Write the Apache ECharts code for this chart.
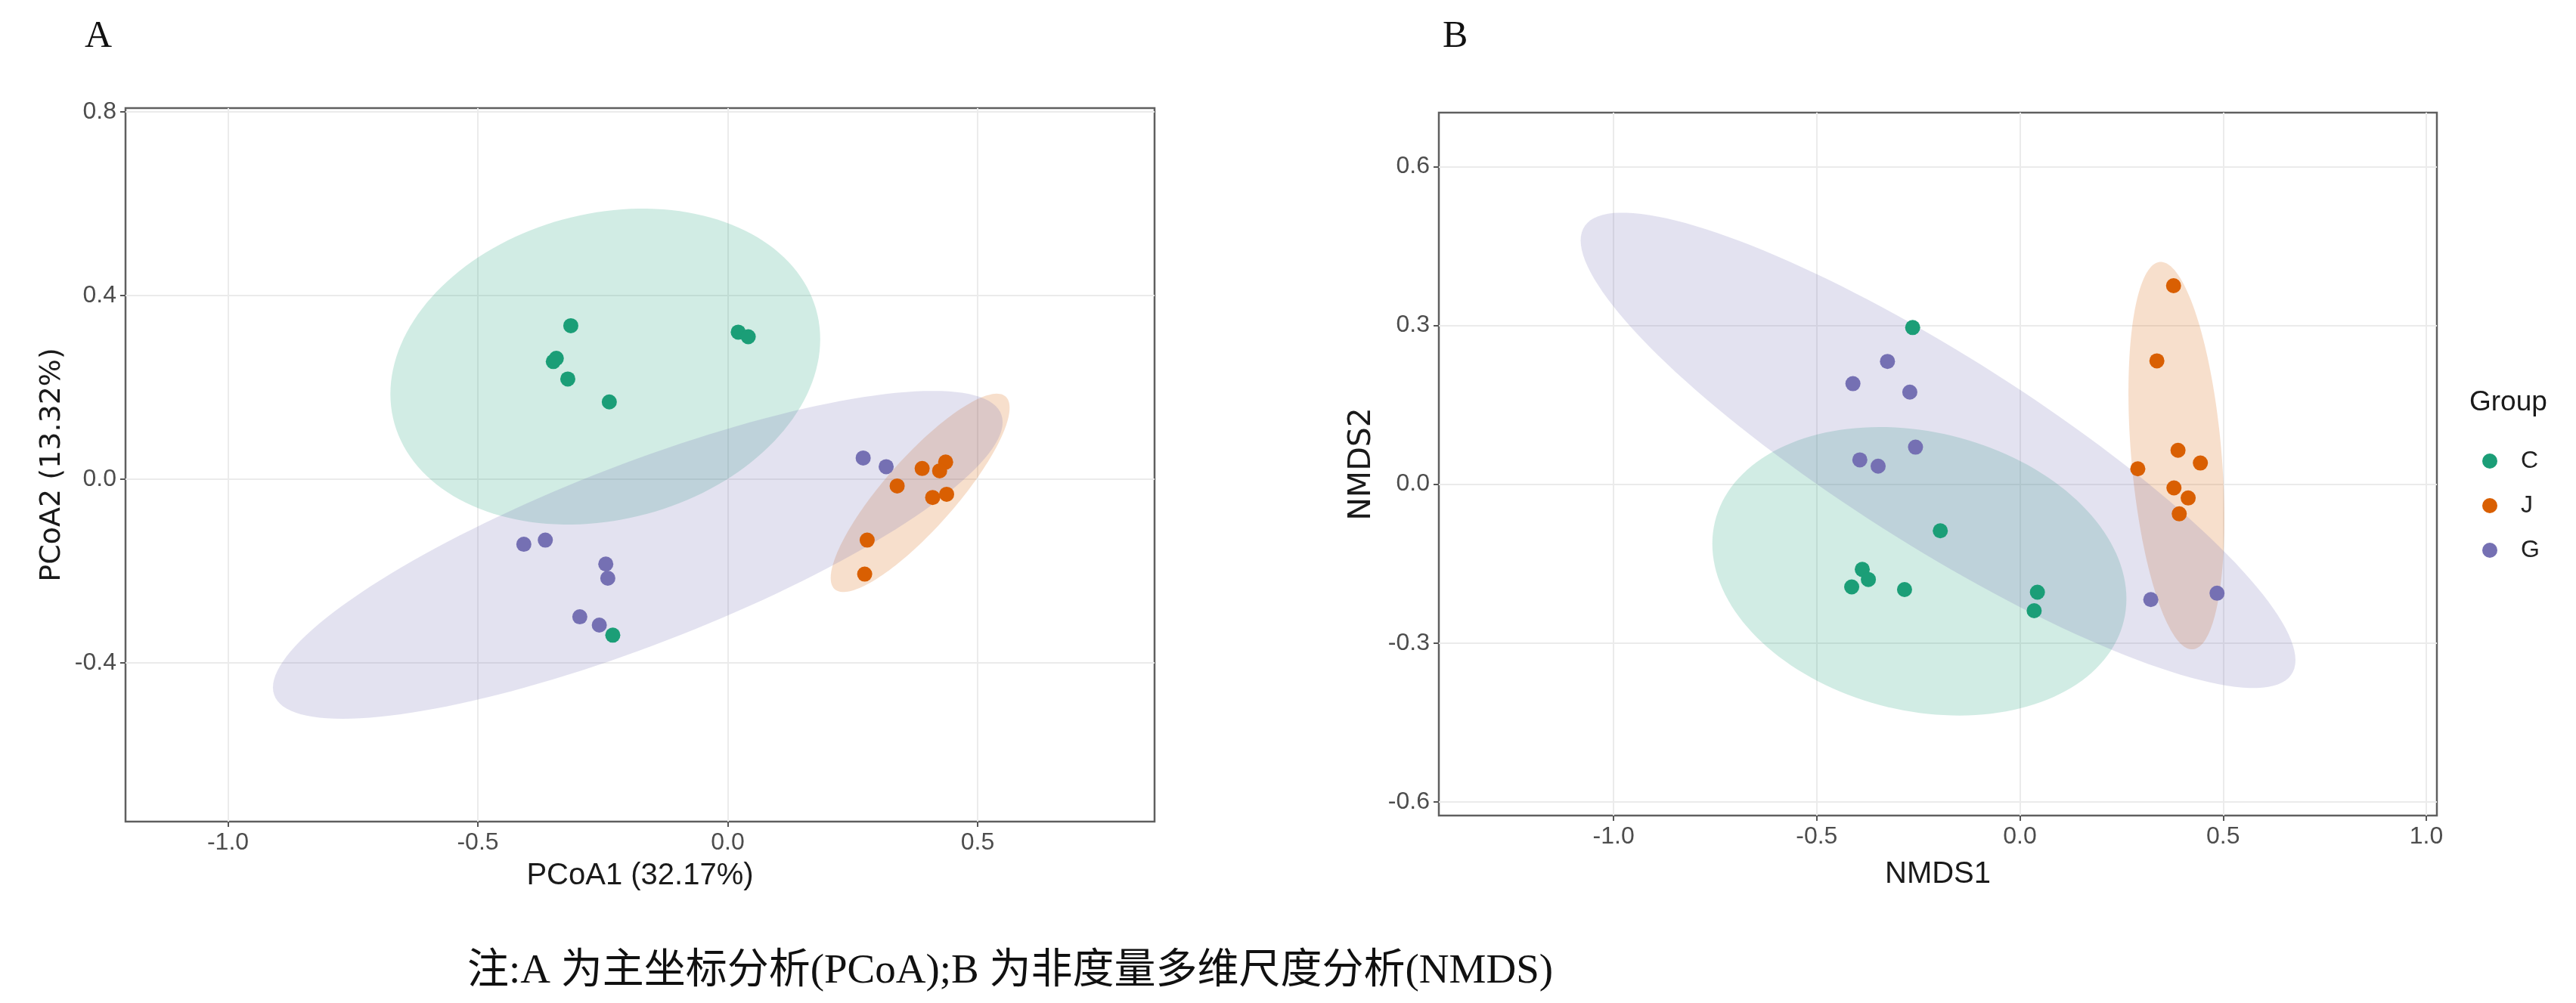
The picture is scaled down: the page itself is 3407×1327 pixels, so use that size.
<!DOCTYPE html>
<html>
<head>
<meta charset="utf-8">
<title>PCoA / NMDS</title>
<script src="https://cdn.jsdelivr.net/npm/echarts@6/dist/echarts.min.js"></script>
<style>
    html, body { margin: 0; padding: 0; background: #fff; }
    #chart { width: 3407px; height: 1327px; }
</style>
</head>
<body>
<div id="chart"></div>
<script>
var groups = ['C', 'J', 'G'];
var groupColors = ['#1B9E77', '#D95F02', '#7570B3'];

// A: PCoA 样本坐标
var pcoaC = [[-0.314, 0.334], [-0.349, 0.256], [-0.343, 0.263], [-0.320, 0.218], [-0.237, 0.168], [0.021, 0.320], [0.041, 0.310], [-0.230, -0.340]];
var pcoaJ = [[0.389, 0.023], [0.436, 0.037], [0.424, 0.018], [0.339, -0.015], [0.410, -0.040], [0.438, -0.033], [0.279, -0.133], [0.274, -0.207]];
var pcoaG = [[0.271, 0.046], [0.317, 0.027], [-0.408, -0.142], [-0.365, -0.133], [-0.244, -0.185], [-0.240, -0.216], [-0.296, -0.300], [-0.257, -0.318]];

// B: NMDS 样本坐标
var nmdsC = [[-0.264, 0.296], [-0.196, -0.088], [-0.388, -0.161], [-0.373, -0.180], [-0.414, -0.194], [-0.284, -0.199], [0.043, -0.204], [0.035, -0.239]];
var nmdsJ = [[0.378, 0.375], [0.337, 0.233], [0.389, 0.064], [0.444, 0.040], [0.290, 0.029], [0.379, -0.007], [0.414, -0.026], [0.392, -0.056]];
var nmdsG = [[-0.326, 0.232], [-0.411, 0.190], [-0.271, 0.174], [-0.257, 0.070], [-0.394, 0.046], [-0.349, 0.034], [0.322, -0.218], [0.485, -0.206]];

// 置信椭圆: [中心x, 中心y, x半宽, y半高, 相位(度)]
var pcoaEllipseC = [-0.245, 0.245, 0.430, 0.344, 80];
var pcoaEllipseJ = [0.385, -0.030, 0.179, 0.216, 31];
var pcoaEllipseG = [-0.180, -0.165, 0.730, 0.357, 36];
var nmdsEllipseC = [-0.2475, -0.1645, 0.5095, 0.2725, 101];
var nmdsEllipseJ = [0.385, 0.054, 0.118, 0.366, 109];
var nmdsEllipseG = [-0.2015, 0.064, 0.8795, 0.449, 152];

// 坐标轴范围和刻度
var pcoaXRange = [-1.205, 0.854];
var pcoaYRange = [-0.746, 0.808];
var nmdsXRange = [-1.430, 1.026];
var nmdsYRange = [-0.626, 0.702];
var pcoaXTicks = [-1.0, -0.5, 0.0, 0.5];
var pcoaYTicks = [-0.4, 0.0, 0.4, 0.8];
var nmdsXTicks = [-1.0, -0.5, 0.0, 0.5, 1.0];
var nmdsYTicks = [-0.6, -0.3, 0.0, 0.3, 0.6];

var chart = echarts.init(document.getElementById('chart'));

var tickFont = 'Liberation Sans, Arial, sans-serif';

function makeAxis(gridIndex, range, ticks, name, nameGap, nameFont, nameSize) {
    return {
        gridIndex: gridIndex,
        type: 'value',
        min: range[0],
        max: range[1],
        name: name,
        nameLocation: 'middle',
        nameGap: nameGap,
        nameTextStyle: { fontFamily: nameFont, fontSize: nameSize, color: '#1a1a1a' },
        axisLine: { show: false, onZero: false },
        axisTick: { show: true, customValues: ticks, length: 7, lineStyle: { color: '#555', width: 2 } },
        axisLabel: {
            customValues: ticks,
            margin: 12,
            fontFamily: tickFont,
            fontSize: 32,
            color: '#4d4d4d',
            formatter: function (v) { return v.toFixed(1); }
        },
        splitLine: { show: true, lineStyle: { color: '#ebebeb', width: 2 } }
    };
}

//画椭圆
function renderEllipse(params, api) {
    var cx = api.value(0), cy = api.value(1), ax = api.value(2), ay = api.value(3);
    var phi = api.value(4) * Math.PI / 180;
    var pts = [];
    for (var k = 0; k < 160; k++) {
        var t = 2 * Math.PI * k / 160;
        pts.push(api.coord([cx + ax * Math.cos(t), cy + ay * Math.cos(t - phi)]));
    }
    return {
        type: 'polygon',
        shape: { points: pts },
        style: { fill: groupColors[api.value(5)], opacity: 0.2 }
    };
}

function ellipseSeries(index, list) {
    return {
        type: 'custom',
        xAxisIndex: index,
        yAxisIndex: index,
        renderItem: renderEllipse,
        silent: true,
        z: 1,
        encode: { x: 0, y: 1 },
        data: list.map(function (e, i) { return e.concat([i]); })
    };
}

function pointSeries(index, name, data) {
    return {
        name: name,
        type: 'scatter',
        xAxisIndex: index,
        yAxisIndex: index,
        symbol: 'circle',
        symbolSize: 20,
        z: 3,
        itemStyle: { color: groupColors[groups.indexOf(name)], opacity: 1 },
        data: data
    };
}

var option = {
    animation: false,
    backgroundColor: '#fff',
    grid: [
        { left: 166, top: 143, width: 1361, height: 944, show: true, borderColor: '#5f5f5f', borderWidth: 2.5, backgroundColor: 'transparent' },
        { left: 1903, top: 149, width: 1320, height: 930, show: true, borderColor: '#5f5f5f', borderWidth: 2.5, backgroundColor: 'transparent' }
    ],
    xAxis: [
        makeAxis(0, pcoaXRange, pcoaXTicks, 'PCoA1 (32.17%)', 52, tickFont, 40),
        makeAxis(1, nmdsXRange, nmdsXTicks, 'NMDS1', 58, tickFont, 40)
    ],
    yAxis: [
        makeAxis(0, pcoaYRange, pcoaYTicks, 'PCoA2 (13.32%)', 78, 'DejaVu Sans, sans-serif', 38),
        makeAxis(1, nmdsYRange, nmdsYTicks, 'NMDS2', 81, 'DejaVu Sans, sans-serif', 41)
    ],
    legend: {
        data: groups,
        orient: 'vertical',
        left: 3278,
        top: 589,
        icon: 'circle',
        itemWidth: 20,
        itemHeight: 20,
        itemGap: 27,
        textStyle: { fontFamily: tickFont, fontSize: 32, color: '#222', lineHeight: 20, padding: [0, 0, 0, 26] }
    },
    graphic: [
        { type: 'text', left: 112, top: 24, style: { text: 'A', font: '50px "Liberation Serif", serif', fill: '#111' } },
        { type: 'text', left: 1908, top: 24, style: { text: 'B', font: '50px "Liberation Serif", serif', fill: '#111' } },
        { type: 'text', left: 3266, top: 514, style: { text: 'Group', font: '37px "Liberation Sans", Arial, sans-serif', fill: '#1a1a1a' } },
        {
            type: 'text', x: 1336, y: 1286,
            style: {
                text: '注:A 为主坐标分析(PCoA);B 为非度量多维尺度分析(NMDS)',
                font: '55px "Liberation Serif", "Noto Sans CJK SC", serif',
                fill: '#111', textAlign: 'center', textVerticalAlign: 'middle'
            }
        }
    ],
    series: [
        ellipseSeries(0, [pcoaEllipseC, pcoaEllipseJ, pcoaEllipseG]),
        ellipseSeries(1, [nmdsEllipseC, nmdsEllipseJ, nmdsEllipseG]),
        pointSeries(0, 'C', pcoaC),
        pointSeries(0, 'J', pcoaJ),
        pointSeries(0, 'G', pcoaG),
        pointSeries(1, 'C', nmdsC),
        pointSeries(1, 'J', nmdsJ),
        pointSeries(1, 'G', nmdsG)
    ]
};

chart.setOption(option);
</script>
</body>
</html>
